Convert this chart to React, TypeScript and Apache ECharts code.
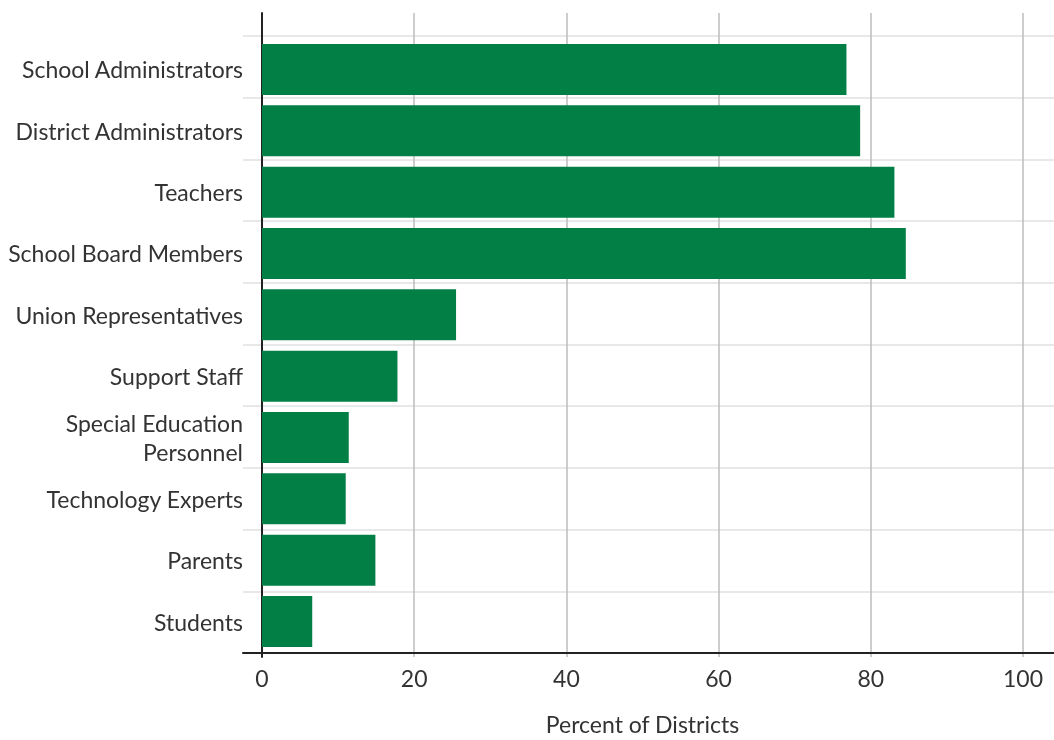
import React, { useEffect, useRef } from "react";
import * as echarts from "echarts";

const categories = [
  "School Administrators",
  "District Administrators",
  "Teachers",
  "School Board Members",
  "Union Representatives",
  "Support Staff",
  "Special Education\nPersonnel",
  "Technology Experts",
  "Parents",
  "Students",
];
const values = [76.8, 78.6, 83.1, 84.6, 25.5, 17.8, 11.4, 11.0, 14.9, 6.6];
const xTicks = [0, 20, 40, 60, 80, 100];

const FONT = "Lato";
const TEXT = "#333333";

export default function App() {
  const ref = useRef<HTMLDivElement>(null);
  useEffect(() => {
    if (!ref.current) return;
    const chart = echarts.init(ref.current, null, { renderer: "svg" });
    chart.setOption({
      animation: false,
      textStyle: { fontFamily: FONT },
      grid: [
        { left: 243, right: 0, top: 36, bottom: 87 },
        { left: 262, right: 31, top: 13, bottom: 67 },
        { left: 262, right: 31, top: 38.8, bottom: 87.8 },
      ],
      xAxis: [
        {
          gridIndex: 0,
          type: "value",
          min: 0,
          max: 1,
          axisLine: { show: true, lineStyle: { color: "#222", width: 2 } },
          axisTick: { show: false },
          axisLabel: { show: false },
          splitLine: { show: false },
        },
        {
          gridIndex: 1,
          type: "value",
          min: 0,
          max: 100,
          interval: 20,
          axisLine: { show: false },
          axisTick: { show: false },
          axisLabel: {
            show: true,
            color: TEXT,
            fontSize: 23,
            fontFamily: FONT,
            margin: 9,
            formatter: (v: number) => (xTicks.includes(v) ? String(v) : ""),
          },
          splitLine: { show: true, lineStyle: { color: "#bdbdbd", width: 1.5 } },
          name: "Percent of Districts",
          nameLocation: "middle",
          nameGap: 55,
          nameTextStyle: { color: TEXT, fontSize: 23, fontFamily: FONT },
        },
        {
          gridIndex: 2,
          type: "value",
          min: 0,
          max: 100,
          show: false,
        },
      ],
      yAxis: [
        {
          gridIndex: 0,
          type: "category",
          inverse: true,
          data: categories,
          axisLine: { show: false },
          axisTick: { show: false },
          axisLabel: { show: false },
          splitLine: { show: true, lineStyle: { color: "#e0e0e0", width: 1.5 } },
        },
        {
          gridIndex: 1,
          type: "value",
          min: 0,
          max: 1,
          axisLine: { show: true, lineStyle: { color: "#222", width: 2 } },
          axisTick: { show: false },
          axisLabel: { show: false },
          splitLine: { show: false },
        },
        {
          gridIndex: 2,
          type: "category",
          inverse: true,
          data: categories,
          axisLine: { show: false },
          axisTick: { show: false },
          axisLabel: {
            show: true,
            color: TEXT,
            fontSize: 23,
            fontFamily: FONT,
            margin: 19,
            lineHeight: 29,
            align: "right",
          },
          splitLine: { show: false },
        },
      ],
      series: [
        {
          type: "bar",
          xAxisIndex: 2,
          yAxisIndex: 2,
          data: values,
          barCategoryGap: "16.8%",
          itemStyle: { color: "#017f44" },
          z: 3,
        },
      ],
    });
    return () => chart.dispose();
  }, []);
  return (
    <div
      ref={ref}
      style={{ position: "fixed", left: 0, top: 0, width: 1054, height: 740 }}
    />
  );
}
